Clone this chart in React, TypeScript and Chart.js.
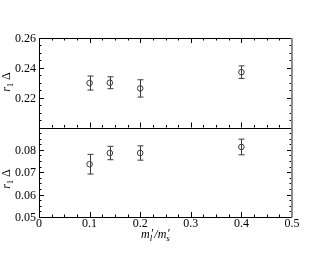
import React, { useEffect, useRef } from "react";
import { Chart, registerables } from "chart.js";

Chart.register(...registerables);

const xValues = [0.1, 0.14, 0.2, 0.4];
const topValues = [0.2298, 0.23, 0.2262, 0.2371];
const topErrors = [0.0047, 0.004, 0.0058, 0.0042];
const bottomValues = [0.0736, 0.0786, 0.0786, 0.0813];
const bottomErrors = [0.0044, 0.003, 0.0032, 0.0035];
const xTicks = [0, 0.1, 0.2, 0.3, 0.4, 0.5];
const xTickLabels = ["0", "0.1", "0.2", "0.3", "0.4", "0.5"];
const topYTicks = [0.22, 0.24, 0.26];
const topYTickLabels = ["0.22", "0.24", "0.26"];
const bottomYTicks = [0.05, 0.06, 0.07, 0.08];
const bottomYTickLabels = ["0.05", "0.06", "0.07", "0.08"];

const FONT = '"Liberation Serif", "DejaVu Serif", serif';
const MARK = "#3a3a3a";

const framePlugin = {
  id: "frame",
  beforeDatasetsDraw(chart: any) {
    const ctx = chart.ctx;
    const xs = chart.scales.x;
    const draw = (vals: number[], errs: number[], ys: any) => {
      ctx.save();
      ctx.strokeStyle = MARK;
      ctx.lineWidth = 1;
      vals.forEach((v, i) => {
        const px = Math.round(xs.getPixelForValue(xValues[i])) + 0.5;
        const y1 = ys.getPixelForValue(v - errs[i]);
        const y2 = ys.getPixelForValue(v + errs[i]);
        ctx.beginPath();
        ctx.moveTo(px, y1);
        ctx.lineTo(px, y2);
        ctx.moveTo(px - 3, y1);
        ctx.lineTo(px + 3, y1);
        ctx.moveTo(px - 3, y2);
        ctx.lineTo(px + 3, y2);
        ctx.stroke();
      });
      ctx.restore();
    };
    draw(topValues, topErrors, chart.scales.yTop);
    draw(bottomValues, bottomErrors, chart.scales.yBot);
  },
  afterDraw(chart: any) {
    const ctx = chart.ctx;
    const xs = chart.scales.x;
    const yT = chart.scales.yTop;
    const yB = chart.scales.yBot;
    const L = chart.chartArea.left;
    const R = chart.chartArea.right;
    const T = yT.getPixelForValue(yT.max);
    const M = yT.getPixelForValue(yT.min);
    const B = yB.getPixelForValue(yB.min);
    ctx.save();
    ctx.strokeStyle = "#000";
    ctx.lineWidth = 1;
    const line = (x1: number, y1: number, x2: number, y2: number) => {
      ctx.beginPath();
      ctx.moveTo(x1, y1);
      ctx.lineTo(x2, y2);
      ctx.stroke();
    };
    // x ticks
    for (let k = 0; k <= 20; k++) {
      const v = k * 0.025;
      const px = Math.round(xs.getPixelForValue(v)) + 0.5;
      const major = k % 4 === 0;
      const len = major ? 5 : 2.5;
      if (k === 0 || k === 20) continue;
      line(px, T, px, T + len);
      line(px, M, px, M - len);
      line(px, B, px, B - len);
    }
    // y ticks top panel
    for (let k = 0; k <= 12; k++) {
      const v = 0.2 + k * 0.005;
      const py = Math.round(yT.getPixelForValue(v)) + 0.5;
      const major = k % 4 === 0;
      const len = major ? 5 : 2.5;
      line(L, py, L + len, py);
      line(R, py, R - len, py);
    }
    // y ticks bottom panel
    for (let k = 0; k <= 16; k++) {
      const v = 0.05 + k * 0.0025;
      const py = Math.round(yB.getPixelForValue(v)) + 0.5;
      const major = k % 4 === 0;
      const len = major ? 5 : 2.5;
      line(L, py, L + len, py);
      line(R, py, R - len, py);
    }
    // frame
    line(L + 0.5, T, L + 0.5, B);
    line(L, T + 0.5, R, T + 0.5);
    line(L, Math.round(M) + 0.5, R, Math.round(M) + 0.5);
    line(L, Math.round(B) + 0.5, R, Math.round(B) + 0.5);
    ctx.strokeStyle = "#8c8c8c";
    ctx.lineWidth = 2;
    line(R, T, R, B + 0.5);

    // tick labels
    ctx.fillStyle = "#000";
    ctx.font = `12px ${FONT}`;
    ctx.textAlign = "right";
    ctx.textBaseline = "alphabetic";
    topYTicks.forEach((v, i) => {
      ctx.fillText(topYTickLabels[i], L - 3, yT.getPixelForValue(v) + 4);
    });
    bottomYTicks.forEach((v, i) => {
      ctx.fillText(bottomYTickLabels[i], L - 3, yB.getPixelForValue(v) + 4);
    });
    ctx.textAlign = "center";
    xTicks.forEach((v, i) => {
      ctx.fillText(xTickLabels[i], xs.getPixelForValue(v), B + 10);
    });

    // x title m_l'/m_s'
    ctx.textAlign = "left";
    let cx = 141;
    const by = 238;
    const put = (t: string, size: number, dy: number, italic: boolean) => {
      ctx.font = `${italic ? "italic " : ""}${size}px ${FONT}`;
      ctx.fillText(t, cx, by + dy);
      cx += ctx.measureText(t).width;
    };
    put("m", 12, 0, true);
    const sx1 = cx;
    put("l", 9, 3, true);
    cx = sx1 + 1.5;
    put("\u2032", 12, -1, false);
    cx += 0.5;
    put("/", 12, 0, true);
    put("m", 12, 0, true);
    const sx2 = cx;
    put("s", 9, 3, true);
    cx = sx2 + 1.5;
    put("\u2032", 12, -1, false);

    // y titles
    const yTitle = (cy: number) => {
      ctx.save();
      ctx.translate(10, cy);
      ctx.rotate(-Math.PI / 2);
      ctx.textAlign = "left";
      ctx.font = `italic 12px ${FONT}`;
      const w1 = ctx.measureText("r").width;
      ctx.font = `8px ${FONT}`;
      const w2 = ctx.measureText("1").width;
      ctx.font = `12px ${FONT}`;
      const w3 = ctx.measureText(" \u0394").width;
      const total = w1 + w2 + w3;
      let x0 = -total / 2;
      ctx.font = `italic 12px ${FONT}`;
      ctx.fillText("r", x0, 0);
      x0 += w1;
      ctx.font = `8px ${FONT}`;
      ctx.fillText("1", x0, 3);
      x0 += w2;
      ctx.font = `12px ${FONT}`;
      ctx.fillText(" \u0394", x0, 0);
      ctx.restore();
    };
    yTitle(82);
    yTitle(179);
    ctx.restore();
  },
};

export default function App() {
  const ref = useRef<HTMLCanvasElement>(null);
  useEffect(() => {
    if (!ref.current) return;
    const chart = new Chart(ref.current, {
      type: "scatter",
      data: {
        datasets: [
          {
            data: xValues.map((x, i) => ({ x, y: topValues[i] })),
            yAxisID: "yTop",
            pointStyle: "circle",
            pointRadius: 2.8,
            borderColor: MARK,
            backgroundColor: "rgba(0,0,0,0)",
            borderWidth: 1,
          },
          {
            data: xValues.map((x, i) => ({ x, y: bottomValues[i] })),
            yAxisID: "yBot",
            pointStyle: "circle",
            pointRadius: 2.8,
            borderColor: MARK,
            backgroundColor: "rgba(0,0,0,0)",
            borderWidth: 1,
          },
        ],
      },
      options: {
        animation: false,
        responsive: false,
        devicePixelRatio: 1,
        layout: { padding: { left: 39, right: 38, top: 38, bottom: 38 } },
        plugins: { legend: { display: false }, tooltip: { enabled: false } },
        events: [],
        scales: {
          x: { type: "linear", min: 0, max: 0.5, display: false },
          yBot: {
            type: "linear",
            position: "left",
            min: 0.05,
            max: 0.09,
            stack: "v",
            stackWeight: 1,
            display: false,
          },
          yTop: {
            type: "linear",
            position: "left",
            min: 0.2,
            max: 0.26,
            stack: "v",
            stackWeight: 1,
            display: false,
          },
        },
      },
      plugins: [framePlugin],
    } as any);
    return () => chart.destroy();
  }, []);
  return (
    <div style={{ position: "fixed", left: 0, top: 0, width: 330, height: 255, background: "#fff" }}>
      <canvas ref={ref} width={330} height={255} />
    </div>
  );
}
